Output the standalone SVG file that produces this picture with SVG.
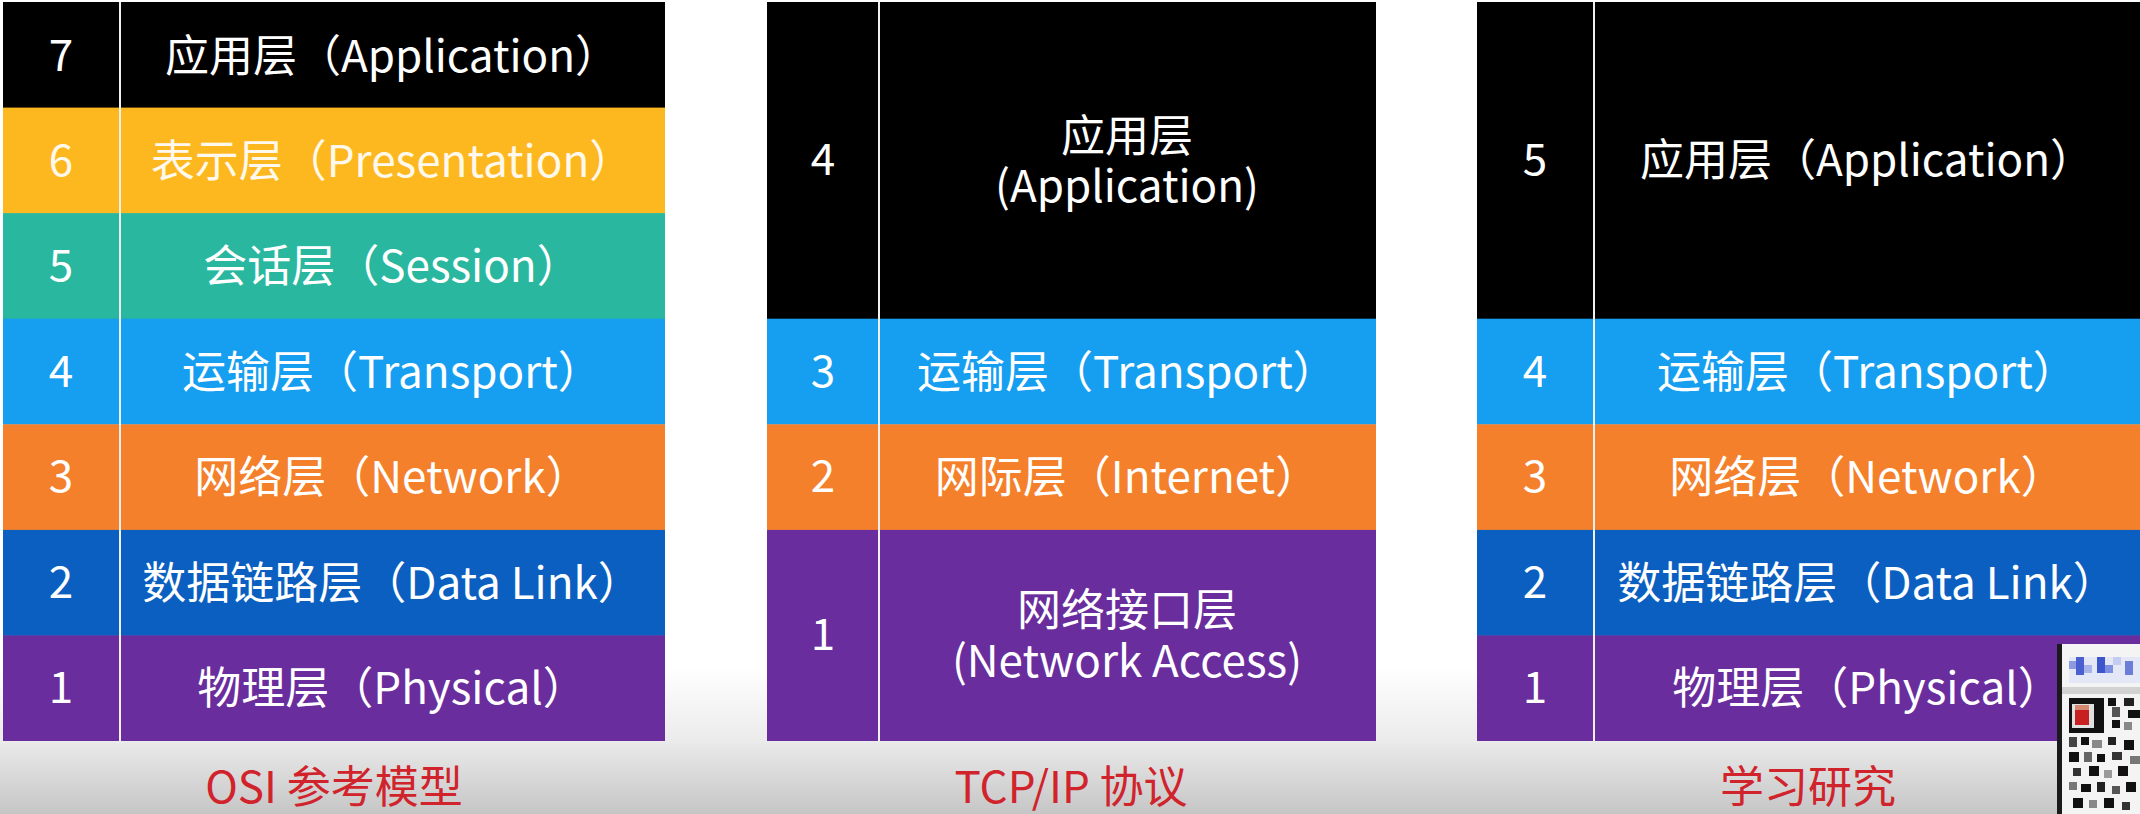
<svg xmlns="http://www.w3.org/2000/svg" width="2140" height="814" viewBox="0 0 2140 814">
<defs>
<linearGradient id="bg" x1="0" y1="0" x2="0" y2="814" gradientUnits="userSpaceOnUse">
<stop offset="0" stop-color="#ffffff"/>
<stop offset="0.82" stop-color="#ffffff"/>
<stop offset="0.91" stop-color="#ebebeb"/>
<stop offset="0.94" stop-color="#dedede"/>
<stop offset="1" stop-color="#c6c6c6"/>
</linearGradient>
<style>
.t{font-family:"Noto Sans CJK SC","Noto Sans",sans-serif;font-size:44px;fill:#ffffff;text-anchor:middle}
.n{font-family:"Noto Sans CJK SC","Noto Sans",sans-serif;font-size:44px;fill:#ffffff;text-anchor:middle}
.cap{font-family:"Noto Sans CJK SC","Noto Sans",sans-serif;font-size:44px;fill:#d0232b;text-anchor:middle}
.div{stroke:#f0f0f0;stroke-width:2}
.k{fill:#000000}.y{fill:#fdb81f}.g{fill:#29b89f}.b{fill:#169ef0}.o{fill:#f5802b}.d{fill:#0b5fc0}.p{fill:#692d9d}
</style>
</defs>
<rect x="0" y="0" width="2140" height="814" fill="url(#bg)"/>

<g id="osi">
<g id="osi-7"><rect class="k" x="3" y="2" width="662" height="106"/><text class="n" x="61" y="71">7</text><text class="t" x="392" y="72">应用层（Application）</text></g>
<g id="osi-6"><rect class="y" x="3" y="107.6" width="662" height="106"/><text class="n" x="61" y="176" style="fill:#fff8ec">6</text><text class="t" x="392" y="177" style="fill:#fff8ec">表示层（Presentation）</text></g>
<g id="osi-5"><rect class="g" x="3" y="213.1" width="662" height="106"/><text class="n" x="61" y="281">5</text><text class="t" x="392" y="282">会话层（Session）</text></g>
<g id="osi-4"><rect class="b" x="3" y="318.7" width="662" height="106"/><text class="n" x="61" y="387">4</text><text class="t" x="392" y="388">运输层（Transport）</text></g>
<g id="osi-3"><rect class="o" x="3" y="424.3" width="662" height="106"/><text class="n" x="61" y="492">3</text><text class="t" x="392" y="493">网络层（Network）</text></g>
<g id="osi-2"><rect class="d" x="3" y="529.9" width="662" height="106"/><text class="n" x="61" y="598">2</text><text class="t" x="392" y="599">数据链路层（Data Link）</text></g>
<g id="osi-1"><rect class="p" x="3" y="635.4" width="662" height="105.6"/><text class="n" x="61" y="703">1</text><text class="t" x="392" y="704">物理层（Physical）</text></g>
<line class="div" x1="120" y1="2" x2="120" y2="741"/>
<text class="cap" x="334" y="803">OSI 参考模型</text>
</g>

<g id="tcpip">
<g id="tcp-4"><rect class="k" x="767" y="2" width="609" height="317"/><text class="n" x="823" y="175">4</text><text class="t" x="1127" y="152"><tspan x="1127" y="152">应用层</tspan><tspan x="1127" y="202">(Application)</tspan></text></g>
<g id="tcp-3"><rect class="b" x="767" y="318.7" width="609" height="106"/><text class="n" x="823" y="387">3</text><text class="t" x="1127" y="388">运输层（Transport）</text></g>
<g id="tcp-2"><rect class="o" x="767" y="424.3" width="609" height="106"/><text class="n" x="823" y="492">2</text><text class="t" x="1127" y="493">网际层（Internet）</text></g>
<g id="tcp-1"><rect class="p" x="767" y="529.9" width="609" height="211.1"/><text class="n" x="823" y="650">1</text><text class="t" x="1127" y="626"><tspan x="1127" y="626">网络接口层</tspan><tspan x="1127" y="677">(Network Access)</tspan></text></g>
<line class="div" x1="879" y1="2" x2="879" y2="741"/>
<text class="cap" x="1071" y="803">TCP/IP 协议</text>
</g>

<g id="study">
<g id="st-5"><rect class="k" x="1477" y="2" width="663" height="317"/><text class="n" x="1535" y="175">5</text><text class="t" x="1867" y="176">应用层（Application）</text></g>
<g id="st-4"><rect class="b" x="1477" y="318.7" width="663" height="106"/><text class="n" x="1535" y="387">4</text><text class="t" x="1867" y="388">运输层（Transport）</text></g>
<g id="st-3"><rect class="o" x="1477" y="424.3" width="663" height="106"/><text class="n" x="1535" y="492">3</text><text class="t" x="1867" y="493">网络层（Network）</text></g>
<g id="st-2"><rect class="d" x="1477" y="529.9" width="663" height="106"/><text class="n" x="1535" y="598">2</text><text class="t" x="1867" y="599">数据链路层（Data Link）</text></g>
<g id="st-1"><rect class="p" x="1477" y="635.4" width="663" height="105.6"/><text class="n" x="1535" y="703">1</text><text class="t" x="1867" y="704">物理层（Physical）</text></g>
<line class="div" x1="1594" y1="2" x2="1594" y2="741"/>
<text class="cap" x="1808" y="803">学习研究</text>
</g>

<g id="qr">
<rect x="2057" y="644" width="83" height="170" fill="#f4f4f4"/>
<rect x="2057" y="644" width="5" height="170" fill="#1a1a1a"/>
<rect x="2069" y="657" width="71" height="26" fill="#e4e8f6"/>
<rect x="2069" y="661" width="8" height="8" fill="#8c9ae0"/>
<rect x="2076" y="657" width="8" height="18" fill="#4a5fd0"/>
<rect x="2084" y="665" width="8" height="8" fill="#a8b4ea"/>
<rect x="2097" y="657" width="8" height="16" fill="#3e56cc"/>
<rect x="2105" y="665" width="8" height="8" fill="#7d8fe0"/>
<rect x="2113" y="657" width="8" height="8" fill="#c4ccf2"/>
<rect x="2125" y="661" width="8" height="14" fill="#6a7ed8"/>
<rect x="2062" y="687" width="78" height="7" fill="#d2d2d2"/>
<rect x="2069" y="698" width="35" height="35" fill="#111111"/>
<rect x="2072" y="704" width="22" height="24" fill="#e0e0e0"/>
<rect x="2075" y="707" width="14" height="18" fill="#c82020"/>
<rect x="2075" y="705" width="14" height="5" fill="#d48870"/>
<rect x="2108" y="698" width="8" height="8" fill="#111"/>
<rect x="2124" y="698" width="10" height="8" fill="#222"/>
<rect x="2112" y="707" width="8" height="10" fill="#555"/>
<rect x="2128" y="710" width="12" height="8" fill="#111"/>
<rect x="2112" y="720" width="8" height="8" fill="#111"/>
<rect x="2124" y="722" width="8" height="8" fill="#888"/>
<rect x="2069" y="737" width="8" height="10" fill="#444"/>
<rect x="2081" y="737" width="8" height="8" fill="#111"/>
<rect x="2092" y="740" width="10" height="8" fill="#888"/>
<rect x="2108" y="737" width="8" height="8" fill="#222"/>
<rect x="2124" y="740" width="10" height="10" fill="#111"/>
<rect x="2069" y="752" width="10" height="10" fill="#111"/>
<rect x="2084" y="752" width="8" height="10" fill="#666"/>
<rect x="2097" y="754" width="8" height="8" fill="#111"/>
<rect x="2112" y="752" width="10" height="8" fill="#333"/>
<rect x="2130" y="756" width="10" height="8" fill="#777"/>
<rect x="2073" y="768" width="8" height="8" fill="#333"/>
<rect x="2089" y="766" width="10" height="10" fill="#111"/>
<rect x="2104" y="770" width="8" height="8" fill="#999"/>
<rect x="2118" y="766" width="10" height="10" fill="#111"/>
<rect x="2069" y="782" width="8" height="8" fill="#777"/>
<rect x="2081" y="784" width="10" height="8" fill="#111"/>
<rect x="2097" y="782" width="8" height="10" fill="#222"/>
<rect x="2112" y="786" width="8" height="8" fill="#555"/>
<rect x="2126" y="782" width="10" height="10" fill="#111"/>
<rect x="2073" y="798" width="10" height="10" fill="#111"/>
<rect x="2089" y="800" width="8" height="8" fill="#888"/>
<rect x="2104" y="798" width="10" height="10" fill="#111"/>
<rect x="2122" y="802" width="8" height="8" fill="#333"/>
</g>
</svg>
